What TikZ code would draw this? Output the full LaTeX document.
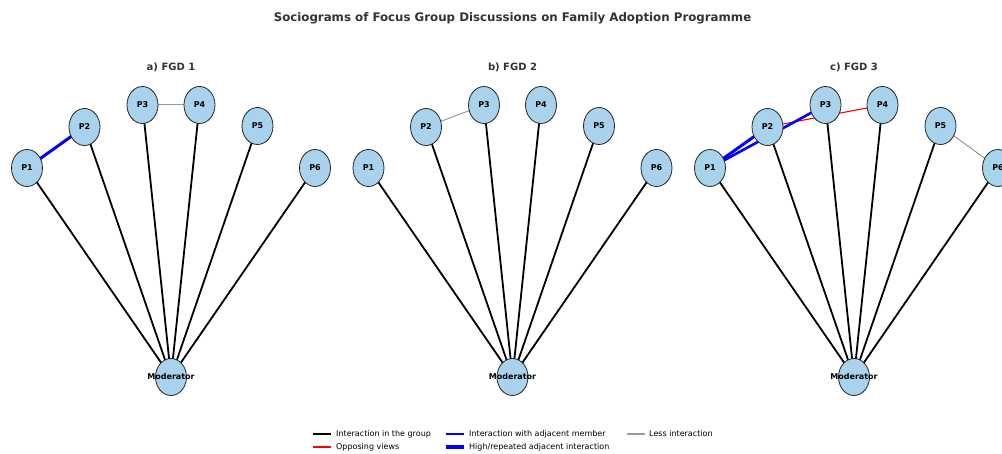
\documentclass[tikz,border=0pt]{standalone}
\usepackage{fontspec}
\setmainfont{DejaVu Sans}
\usetikzlibrary{shapes.geometric,backgrounds}
\definecolor{nodeblue}{HTML}{A9D2EC}
\definecolor{titlegray}{HTML}{333333}
\definecolor{lessgray}{HTML}{999999}
\begin{document}
\begin{tikzpicture}[x=1pt,y=-1pt,
  person/.style={ellipse, draw=black!85, line width=0.8pt, fill=nodeblue,
    minimum width=31pt, minimum height=37pt, inner sep=0pt,
    font=\bfseries\fontsize{8}{9}\selectfont},
  moderator/.style={person,
    label={[font=\bfseries\fontsize{8}{9}\selectfont, inner sep=0pt]center:Moderator}},
  group/.style={line width=1.8pt, black},
  opposing/.style={line width=1.1pt, red},
  adjacent/.style={line width=1.4pt, blue},
  repeated/.style={line width=3pt, blue},
  less/.style={line width=1pt, lessgray},
  paneltitle/.style={font=\bfseries\fontsize{10}{12}\selectfont, text=titlegray},
  legendtext/.style={font=\fontsize{8}{10}\selectfont, anchor=west, inner sep=0pt}
]
\useasboundingbox (0,0) rectangle (1002,454);
\clip (0,0) rectangle (1002,454);

% main title
\node[font=\bfseries\fontsize{11.8}{14}\selectfont, text=titlegray] (title) at (512.5,18)
  {Sociograms of Focus Group Discussions on Family Adoption Programme};

% three sociograms: participants on an arc above the moderator
\foreach \p/\cx/\lab in {a/171/{a) FGD 1}, b/512.5/{b) FGD 2}, c/854/{c) FGD 3}} {
  \node[paneltitle] (\p title) at (\cx,67) {\lab};
  \node[person] (\p1) at (\cx-144,168) {P1};
  \node[person] (\p2) at (\cx-86.5,127) {P2};
  \node[person] (\p3) at (\cx-28.5,105) {P3};
  \node[person] (\p4) at (\cx+28.5,105) {P4};
  \node[person] (\p5) at (\cx+86.5,126) {P5};
  \node[person] (\p6) at (\cx+144,168) {P6};
  \node[moderator] (\p m) at (\cx,377) {};
  \begin{scope}[on background layer]
    \foreach \i in {1,...,6} {
      \draw[group] (\p\i.center) -- (\p m.center);
    }
  \end{scope}
}

% interactions among participants
\begin{scope}[on background layer]
  \draw[repeated] (a1.center) -- (a2.center);
  \draw[less] (a3.center) -- (a4.center);
  \draw[less] (b2.center) -- (b3.center);
  \draw[opposing] (c2.center) -- (c4.center);
  \draw[repeated] (c1.center) -- (c2.center);
  \draw[line width=2.6pt, blue] (c1.center) -- (c3.center);
  \draw[less] (c5.center) -- (c6.center);
\end{scope}

% legend
\coordinate (k1a) at (313,434); \coordinate (k1b) at (331,434);
\coordinate (k2a) at (313,447); \coordinate (k2b) at (331,447);
\coordinate (k3a) at (446,434); \coordinate (k3b) at (464,434);
\coordinate (k4a) at (446,447); \coordinate (k4b) at (464,447);
\coordinate (k5a) at (627,434); \coordinate (k5b) at (645,434);
\draw[group] (k1a) -- (k1b);
\draw[line width=1.4pt, red] (k2a) -- (k2b);
\draw[adjacent] (k3a) -- (k3b);
\draw[line width=3.5pt, blue] (k4a) -- (k4b);
\draw[less, line width=1.3pt] (k5a) -- (k5b);
\node[legendtext] (t1) at (336,434) {Interaction in the group};
\node[legendtext] (t2) at (336,447) {Opposing views};
\node[legendtext] (t3) at (469,434) {Interaction with adjacent member};
\node[legendtext] (t4) at (469,447) {High/repeated adjacent interaction};
\node[legendtext] (t5) at (649,434) {Less interaction};
\end{tikzpicture}
\end{document}
